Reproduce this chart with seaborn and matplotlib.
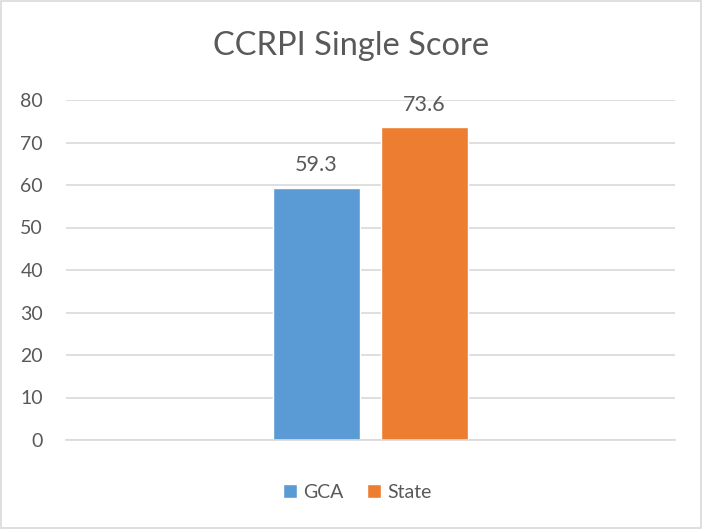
import matplotlib
matplotlib.use('Agg')
import matplotlib.pyplot as plt
import seaborn as sns
import pandas as pd
from matplotlib.patches import Rectangle

# data
categories = ['CCRPI Single Score']
series = ['GCA', 'State']
values = [59.3, 73.6]
colors = ['#5B9BD5', '#ED7D31']
y_ticks = [0, 10, 20, 30, 40, 50, 60, 70, 80]

df = pd.DataFrame({
    'category': categories * len(series),
    'series': series,
    'score': values,
})

sns.set_style('white')
plt.rcParams['font.family'] = ['Lato', 'DejaVu Sans']
text_color = '#595959'
grid_color = '#D9D9D9'

fig = plt.figure(figsize=(7.02, 5.29), dpi=100)
ax = fig.add_axes([66 / 702, 1 - 440 / 529, (675 - 66) / 702, 340 / 529])

sns.barplot(data=df, x='category', y='score', hue='series',
            palette=colors, width=0.354, gap=0.195, ax=ax,
            saturation=1, errorbar=None, legend=True)

for c in ax.containers:
    ax.bar_label(c, fmt='%.1f', padding=9, fontsize=15.5, color=text_color)

ax.set_ylim(0, 80)
ax.set_xlim(-0.5, 0.5)
ax.set_yticks(y_ticks)
ax.set_xticks([])
ax.set_xlabel('')
ax.set_ylabel('')
ax.tick_params(axis='y', length=0, pad=16.5, labelsize=14, labelcolor=text_color)
ax.yaxis.grid(True, color=grid_color, linewidth=1.2)
ax.set_axisbelow(True)
for s in ['top', 'right', 'left']:
    ax.spines[s].set_visible(False)
ax.spines['bottom'].set_color(grid_color)
ax.spines['bottom'].set_linewidth(1.2)

handles, labels = ax.get_legend_handles_labels()
ax.get_legend().remove()
fig.legend(handles, labels, loc='center', bbox_to_anchor=(357 / 702, 1 - 492 / 529),
           ncol=2, frameon=False, fontsize=14, labelcolor=text_color,
           handlelength=0.75, handleheight=0.75, handletextpad=0.3, columnspacing=1.2)

fig.text(0.5, 1 - 46 / 529, 'CCRPI Single Score', ha='center', va='center',
         fontsize=23.5, color=text_color)

fig.patches.append(Rectangle((0.002, 0.002), 0.996, 0.996, transform=fig.transFigure,
                             fill=False, edgecolor=grid_color, linewidth=1.2))

fig.savefig('out.png', dpi=100)
